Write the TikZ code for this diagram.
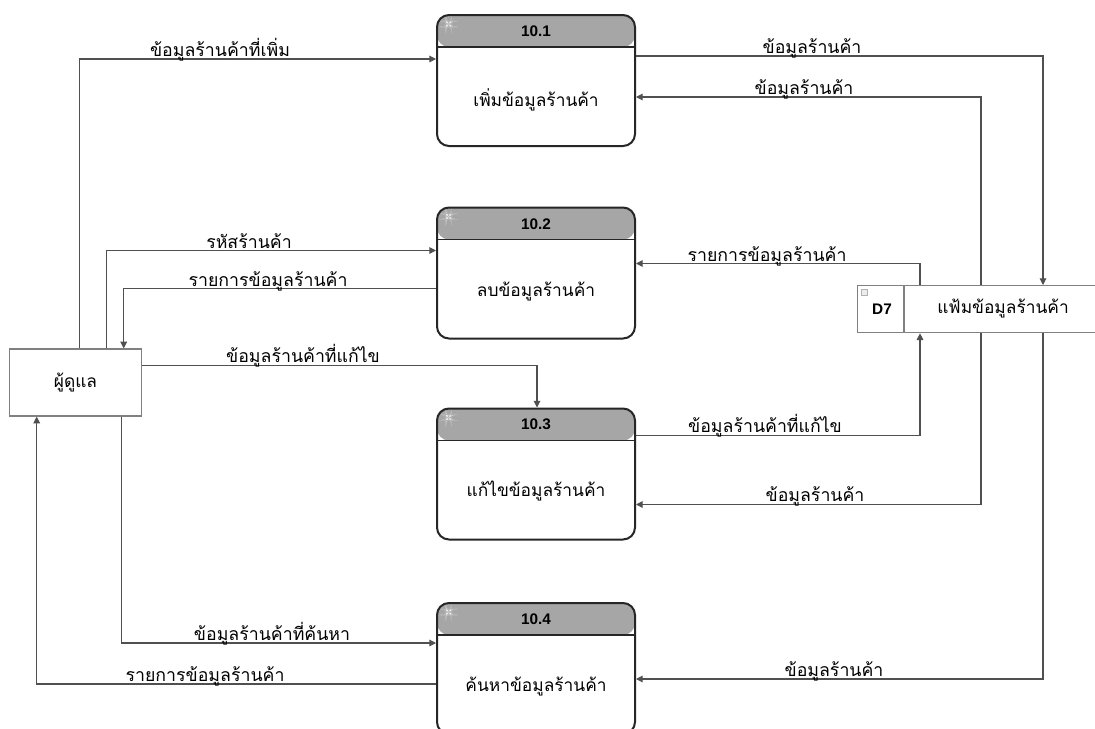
\documentclass[tikz,border=0pt]{standalone}
\usepackage{fontspec}
\setmainfont{Liberation Sans}
\newfontfamily\thaifont[Script=Thai]{Loma}
\usetikzlibrary{calc,arrows.meta}
\definecolor{hdr}{HTML}{A6A6A6}
\definecolor{ln}{HTML}{505050}
\tikzset{
  proc/.style={draw=black!85,line width=1.5pt,rounded corners=9pt,minimum width=148.5pt,minimum height=98.25pt,inner sep=0pt,
    path picture={\fill[hdr] (path picture bounding box.north west) rectangle ([yshift=-24pt]path picture bounding box.north east);
      \draw[black!85,line width=1.2pt] ([yshift=-24pt]path picture bounding box.north west) -- ([yshift=-24pt]path picture bounding box.north east);
      \draw[gray!60,fill=gray!15,line width=0.4pt] ([xshift=6.5pt,yshift=-4.5pt]path picture bounding box.north west) rectangle ++(4.5pt,-4.5pt);}},
  hnum/.style={font=\bfseries\fontsize{11.5}{13}\selectfont},
  btxt/.style={font=\thaifont\fontsize{13}{15}\selectfont},
  lbl/.style={font=\thaifont\fontsize{13.3}{15}\selectfont,anchor=base,inner sep=0pt},
  flow/.style={draw=ln,line width=0.8pt,-{Triangle[length=5pt,width=5pt]}},
  ext/.style={draw=gray,line width=1.2pt,fill=white,minimum width=99pt,minimum height=50pt,inner sep=0pt},
}
\begin{document}
\begin{tikzpicture}[x=0.75pt,y=-0.75pt]
\useasboundingbox (0,0) rectangle (1095,728);
\clip (0,0) rectangle (1095,728);
% processes
\node[proc] (p1) at (536,80.5) {};
\node[hnum] (h1) at (536,31) {10.1};
\node[btxt] (b1) at (536,100) {เพิ่มข้อมูลร้านค้า};
\node[proc] (p2) at (536,273) {};
\node[hnum] (h2) at (536,224) {10.2};
\node[btxt] (b2) at (536,292) {ลบข้อมูลร้านค้า};
\node[proc] (p3) at (536,474) {};
\node[hnum] (h3) at (536,424) {10.3};
\node[btxt] (b3) at (536,491) {แก้ไขข้อมูลร้านค้า};
\node[proc] (p4) at (536,668.5) {};
\node[hnum] (h4) at (536,619) {10.4};
\node[btxt] (b4) at (536,687) {ค้นหาข้อมูลร้านค้า};
% external entity
\node[ext] (u) at (75.5,382.5) {};
\node[btxt] (ut) at (75.5,383) {ผู้ดูแล};
% data store
\node[draw=gray,line width=1pt,fill=white,minimum width=180pt,minimum height=35.25pt,inner sep=0pt,anchor=north west] (d7) at (857,285) {};
\draw[gray,line width=1pt] ($(d7.north west)+(47,0)$) -- ($(d7.south west)+(47,0)$);
\draw[gray!60,fill=gray!15,line width=0.4pt] ($(d7.north west)+(4,4)$) rectangle ++(6,6);
\node[font=\bfseries\fontsize{11.5}{13}\selectfont] (d7id) at (882,309) {D7};
\node[btxt] (d7t) at (1003,309) {แฟ้มข้อมูลร้านค้า};
% flows
\draw[flow] ($(u.north west)+(71,0)$) |- ($(p1.north west)+(0,45)$);
\node[lbl] (l1) at (220,56) {ข้อมูลร้านค้าที่เพิ่ม};
\draw[flow] ($(p1.north east)+(0,42)$) -| ($(d7.north west)+(186,0)$);
\node[lbl] (l2) at (812,53) {ข้อมูลร้านค้า};
\draw[flow] ($(d7.north west)+(124,0)$) |- ($(p1.north east)+(0,83)$);
\node[lbl] (l3) at (804,94) {ข้อมูลร้านค้า};
\draw[flow] ($(u.north west)+(98,0)$) |- ($(p2.north west)+(0,44)$);
\node[lbl] (l4) at (249,248) {รหัสร้านค้า};
\draw[flow] ($(p2.north west)+(0,82)$) -| ($(u.north west)+(115,0)$);
\node[lbl] (l5) at (268,286) {รายการข้อมูลร้านค้า};
\draw[flow] ($(d7.north west)+(63,0)$) |- ($(p2.north east)+(0,57)$);
\node[lbl] (l6) at (767,261) {รายการข้อมูลร้านค้า};
\draw[flow] ($(u.north east)+(0,17)$) -| ($(p3.north west)+(101,0)$);
\node[lbl] (l7) at (303,362) {ข้อมูลร้านค้าที่แก้ไข};
\draw[flow] ($(p3.north east)+(0,28)$) -| ($(d7.south west)+(63,0)$);
\node[lbl] (l8) at (765,432) {ข้อมูลร้านค้าที่แก้ไข};
\draw[flow] ($(d7.south west)+(124,0)$) |- ($(p3.north east)+(0,97)$);
\node[lbl] (l9) at (815,501) {ข้อมูลร้านค้า};
\draw[flow] ($(u.south west)+(113,0)$) |- ($(p4.north west)+(0,41)$);
\node[lbl] (l10) at (272,640) {ข้อมูลร้านค้าที่ค้นหา};
\draw[flow] ($(p4.north west)+(0,82)$) -| ($(u.south west)+(28,0)$);
\node[lbl] (l11) at (205,681) {รายการข้อมูลร้านค้า};
\draw[flow] ($(d7.south west)+(186,0)$) |- ($(p4.north east)+(0,77)$);
\node[lbl] (l12) at (834,676) {ข้อมูลร้านค้า};
\end{tikzpicture}
\end{document}
